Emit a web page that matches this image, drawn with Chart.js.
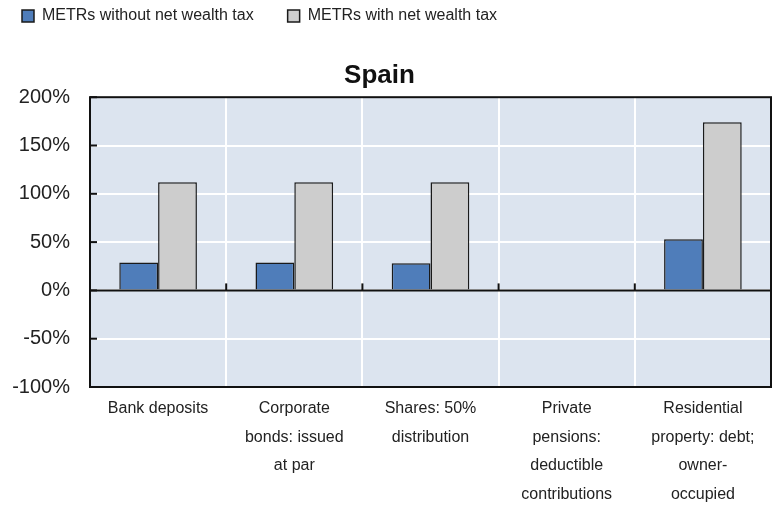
<!DOCTYPE html>
<html>
<head>
<meta charset="utf-8">
<script src="https://cdn.jsdelivr.net/npm/chart.js@4.4.1/dist/chart.umd.min.js"></script>
<style>
  html, body { margin: 0; padding: 0; background: #ffffff; }
  #wrap { width: 772px; height: 506px; }
</style>
</head>
<body>
<div id="wrap"><canvas id="c"></canvas></div>
<script>
const categories = [
  ["Bank deposits"],
  ["Corporate", "bonds: issued", "at par"],
  ["Shares: 50%", "distribution"],
  ["Private", "pensions:", "deductible", "contributions"],
  ["Residential", "property: debt;", "owner-", "occupied"]
];
const seriesNames = ["METRs without net wealth tax", "METRs with net wealth tax"];
const withoutTax = [29, 29, 28, 0, 53];
const withTax = [112, 112, 112, 0, 174];
const yMin = -100, yMax = 200, yStep = 50;
const chartTitle = "Spain";

const frame = {
  id: 'frame',
  afterDraw(chart) {
    const { ctx, chartArea: a, scales } = chart;
    const y = scales.y, x = scales.x;
    ctx.save();
    ctx.strokeStyle = '#111';
    ctx.lineWidth = 2;
    y.ticks.forEach(t => {
      const py = y.getPixelForValue(t.value);
      ctx.beginPath(); ctx.moveTo(a.left, py); ctx.lineTo(a.left + 7, py); ctx.stroke();
    });
    const y0 = y.getPixelForValue(0);
    for (let i = 0; i < categories.length - 1; i++) {
      const px = (x.getPixelForValue(i) + x.getPixelForValue(i + 1)) / 2;
      ctx.beginPath(); ctx.moveTo(px, y0); ctx.lineTo(px, y0 - 7); ctx.stroke();
    }
    ctx.beginPath(); ctx.moveTo(a.left, y0); ctx.lineTo(a.right, y0); ctx.stroke();
    ctx.strokeRect(a.left, a.top, a.right - a.left, a.bottom - a.top);
    ctx.restore();
  }
};
const bg = {
  id: 'bg',
  beforeDraw(chart) {
    const { ctx, chartArea: a } = chart;
    ctx.save();
    ctx.fillStyle = '#dce4ef';
    ctx.fillRect(a.left, a.top, a.right - a.left, a.bottom - a.top);
    ctx.restore();
  }
};

new Chart(document.getElementById('c'), {
  type: 'bar',
  data: {
    labels: categories,
    datasets: [
      { label: seriesNames[0], data: withoutTax, backgroundColor: '#4f7dba', borderColor: '#1a1a1a', borderWidth: 1.5, barPercentage: 1, categoryPercentage: 0.57 },
      { label: seriesNames[1], data: withTax, backgroundColor: '#cdcdcd', borderColor: '#1a1a1a', borderWidth: 1.5, barPercentage: 1, categoryPercentage: 0.57 }
    ]
  },
  options: {
    responsive: true,
    maintainAspectRatio: false,
    animation: false,
    layout: { padding: { left: -12, right: 1, top: -26, bottom: 0 } },
    plugins: {
      legend: {
        position: 'top',
        align: 'start',
        weight: 3000,
        labels: {
          boxWidth: 12, boxHeight: 12, padding: 34,
          color: '#222',
          font: { family: "'Liberation Sans', Arial, sans-serif", size: 16 }
        }
      },
      title: {
        display: true,
        text: chartTitle,
        color: '#111',
        weight: 2000,
        font: { family: "'Liberation Sans', Arial, sans-serif", size: 26, weight: 'bold' },
        padding: { top: 26, bottom: 6 }
      },
      tooltip: { enabled: false }
    },
    scales: {
      x: {
        grid: { color: '#ffffff', lineWidth: 2, drawTicks: false, offset: true },
        border: { display: false },
        ticks: {
          color: '#222', padding: 7, maxRotation: 0, autoSkip: false,
          font: { family: "'Liberation Sans', Arial, sans-serif", size: 16, lineHeight: 1.8 }
        },
        afterFit(s) { s.height = 119; }
      },
      y: {
        min: yMin, max: yMax,
        grid: { color: '#ffffff', lineWidth: 2, drawTicks: false },
        border: { display: false },
        ticks: {
          stepSize: yStep, color: '#222', padding: 20,
          font: { family: "'Liberation Sans', Arial, sans-serif", size: 20 },
          callback: v => v + '%'
        },
        afterFit(s) { s.width = 102; }
      }
    }
  },
  plugins: [bg, frame]
});
</script>
</body>
</html>
